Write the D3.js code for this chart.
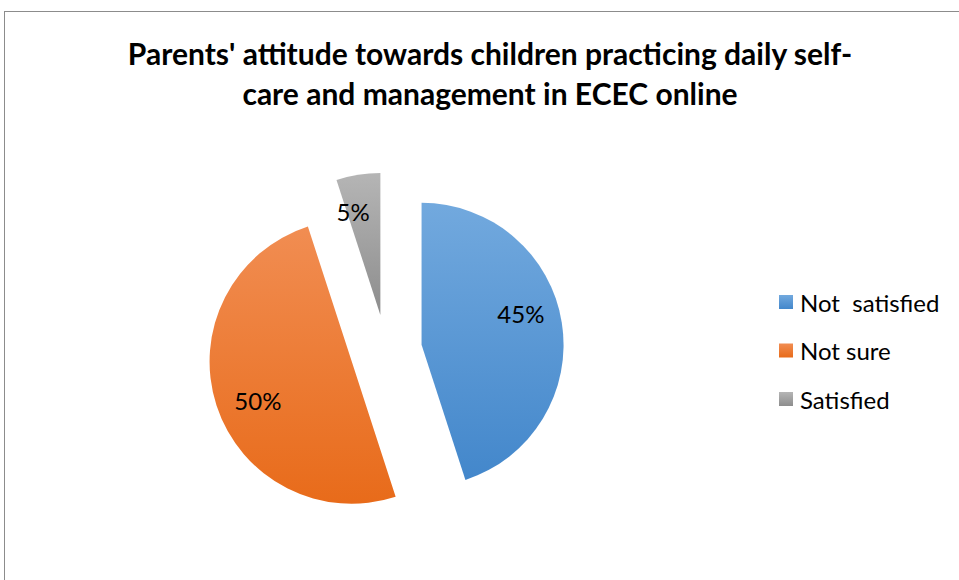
<!DOCTYPE html>
<html>
<head>
<meta charset="utf-8">
<script src="https://cdn.jsdelivr.net/npm/d3@7"></script>
<style>
  html, body { margin: 0; padding: 0; background: #fff; }
  svg { display: block; }
</style>
</head>
<body>
<svg id="chart" width="959" height="580"></svg>
<script>
// Survey responses (percent of parents)
const categories = ["Not  satisfied", "Not sure", "Satisfied"];
const values = [45, 50, 5];
const titleLines = [
  "Parents' attitude towards children practicing daily self-",
  "care and management in ECEC online"
];
const colorTop = ["#72a9de", "#f18d52", "#b5b5b5"];
const colorBottom = ["#4387cb", "#e86b1a", "#8d8d8d"];

const svg = d3.select("#chart");
const W = 959, H = 580;

// chart frame
svg.append("rect")
  .attr("x", 4.5).attr("y", 11.5)
  .attr("width", W + 10).attr("height", H + 10)
  .attr("fill", "#fff").attr("stroke", "#8c8c8c").attr("stroke-width", 1);

// title
const title = svg.append("text")
  .attr("text-anchor", "middle")
  .attr("font-family", "Lato, 'Open Sans', sans-serif")
  .attr("font-weight", "bold")
  .attr("font-size", 30)
  .attr("fill", "#000");
titleLines.forEach((t, i) => {
  title.append("tspan").attr("x", 490).attr("y", 65 + i * 40).text(t);
});

// gradients
const defs = svg.append("defs");
categories.forEach((c, i) => {
  const g = defs.append("linearGradient")
    .attr("id", "grad" + i)
    .attr("x1", 0).attr("y1", 0).attr("x2", 0).attr("y2", 1);
  g.append("stop").attr("offset", "0%").attr("stop-color", colorTop[i]);
  g.append("stop").attr("offset", "100%").attr("stop-color", colorBottom[i]);
});

// exploded pie
const cx = 386, cy = 350.5, radius = 142, explode = 36, labelR = 103;
const pie = d3.pie().sort(null).value(d => d)(values);
const arc = d3.arc().innerRadius(0).outerRadius(radius);
const mid = d => (d.startAngle + d.endAngle) / 2;

const pieG = svg.append("g").attr("transform", `translate(${cx},${cy})`);
const slices = pieG.selectAll("g.slice").data(pie).join("g")
  .attr("class", "slice")
  .attr("transform", d => {
    const a = mid(d);
    return `translate(${explode * Math.sin(a)},${-explode * Math.cos(a)})`;
  });

slices.append("path")
  .attr("d", arc)
  .attr("fill", (d, i) => `url(#grad${i})`);

slices.append("text")
  .attr("transform", d => {
    const a = mid(d) - 0.11;
    return `translate(${labelR * Math.sin(a)},${-labelR * Math.cos(a) - 4})`;
  })
  .attr("text-anchor", "middle")
  .attr("dominant-baseline", "central")
  .attr("font-family", "Lato, 'Open Sans', sans-serif")
  .attr("font-size", 24)
  .attr("fill", "#000")
  .text(d => d.data + "%");

// legend
const legend = svg.append("g");
const rows = legend.selectAll("g").data(categories).join("g")
  .attr("transform", (d, i) => `translate(779,${302 + i * 48.5})`);
rows.append("rect")
  .attr("x", 0).attr("y", -7).attr("width", 14).attr("height", 14)
  .attr("fill", (d, i) => `url(#grad${i})`);
rows.append("text")
  .attr("x", 21).attr("y", 0)
  .attr("dominant-baseline", "central")
  .attr("font-family", "Lato, 'Open Sans', sans-serif")
  .attr("font-size", 24)
  .attr("fill", "#000")
  .attr("xml:space", "preserve")
  .style("white-space", "pre")
  .text(d => d);
</script>
</body>
</html>
